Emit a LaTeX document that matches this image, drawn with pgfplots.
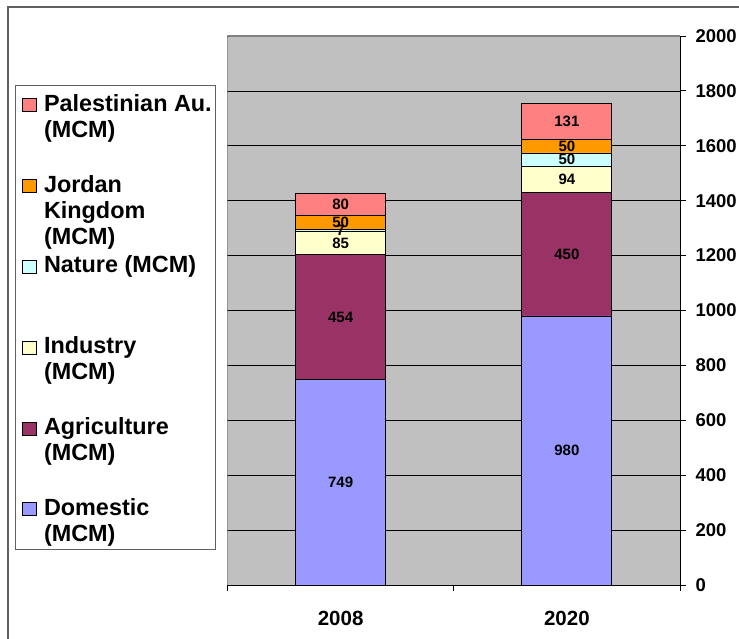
\documentclass[border=0pt]{standalone}
\usepackage{fontspec}
\setmainfont{Liberation Sans}
\usepackage{pgfplots}
\pgfplotsset{compat=1.18}
\definecolor{dom}{HTML}{9999FF}
\definecolor{agr}{HTML}{993366}
\definecolor{ind}{HTML}{FFFFCC}
\definecolor{nat}{HTML}{CCFFFF}
\definecolor{jor}{HTML}{FF9900}
\definecolor{pal}{HTML}{FF8080}
\definecolor{bgc}{HTML}{C0C0C0}
\definecolor{frame}{HTML}{606060}
\newcommand{\legtext}[1]{\parbox[t]{171pt}{\raggedright #1}}
\pgfplotsset{
  commonaxis/.style={
    at={(227.5pt,54pt)}, anchor=south west,
    scale only axis, width=452.5pt, height=549pt,
    xmin=-0.5, xmax=1.5, ymin=0, ymax=2000,
  }
}
\begin{document}
\begin{tikzpicture}
\draw[frame, line width=1.3pt] (8pt,-20pt) -- (8pt,632pt) -- (760pt,632pt);
% legend frame
\draw[frame, line width=0.8pt, fill=white] (15pt,90pt) rectangle (215pt,554pt);
\begin{axis}[
  commonaxis,
  ybar stacked, bar width=90pt,
  xtick={-0.5,0.5,1.5}, x tick label as interval, xticklabels={2008,2020},
  ytick={0,200,...,2000},
  axis x line*=bottom, axis y line*=right,
  axis line style={black, line width=0.8pt, -},
  tick align=outside, major tick length=6pt,
  tick style={black, line width=0.8pt},
  axis background/.style={fill=bgc},
  ymajorgrids, major grid style={black, line width=0.6pt},
  /pgf/number format/assume math mode=true,
  /pgf/number format/1000 sep={},
  yticklabel style={font=\fontsize{18.5}{20}\selectfont\bfseries, xshift=6pt},
  xticklabel style={font=\fontsize{20.5}{22}\selectfont\bfseries, yshift=-17pt},
  every axis plot/.append style={draw=black, line width=0.8pt},
  reverse legend,
  legend cell align=left,
  legend style={at={(-0.4696,0.8974)}, anchor=north west, draw=none, fill=none,
    inner sep=0pt, outer sep=0pt,
    font=\fontsize{23.4}{26}\selectfont\bfseries,
    /tikz/column sep=0pt, /tikz/row sep=0pt,
    cells={anchor=base west, inner sep=0pt, outer sep=0pt}},
  legend image code/.code={\path[draw=none, fill=none] (0pt,-61.8pt) rectangle (27pt,17pt);
    \draw[#1, line width=0.6pt] (7pt,-0.5pt) rectangle (21pt,12.5pt);},
]
\addplot[fill=dom] coordinates {(0,749) (1,980)};
\addlegendentry{\legtext{Domestic\\(MCM)}}
\addplot[fill=agr] coordinates {(0,454) (1,450)};
\addlegendentry{\legtext{Agriculture\\(MCM)}}
\addplot[fill=ind] coordinates {(0,85) (1,94)};
\addlegendentry{\legtext{Industry\\(MCM)}}
\addplot[fill=nat] coordinates {(0,7) (1,50)};
\addlegendentry{\legtext{Nature (MCM)}}
\addplot[fill=jor] coordinates {(0,50) (1,50)};
\addlegendentry{\legtext{Jordan\\Kingdom\\(MCM)}}
\addplot[fill=pal] coordinates {(0,80) (1,131)};
\addlegendentry{\legtext{Palestinian Au.\\(MCM)}}
\draw[gray, line width=1.5pt] (rel axis cs:0,0) -- (rel axis cs:0,1) -- (rel axis cs:1,1);
\end{axis}
% value labels at the middle of each stacked segment
\begin{axis}[
  commonaxis, hide axis,
  nodes near coords, point meta=explicit symbolic,
  nodes near coords style={font=\fontsize{15}{17}\selectfont\bfseries, text=black, anchor=center},
]
\addplot[only marks, mark=*, mark size=0pt, mark options={draw=none, fill=none}]
  coordinates {
  (0,374.5)[749] (0,976)[454] (0,1245.5)[85] (0,1291.5)[7] (0,1320)[50] (0,1385)[80]
  (1,490)[980] (1,1205)[450] (1,1477)[94] (1,1549)[50] (1,1599)[50] (1,1689.5)[131]
  };
\end{axis}
\pgfresetboundingbox
\useasboundingbox (0,0) rectangle (739pt,639pt);
\end{tikzpicture}
\end{document}
